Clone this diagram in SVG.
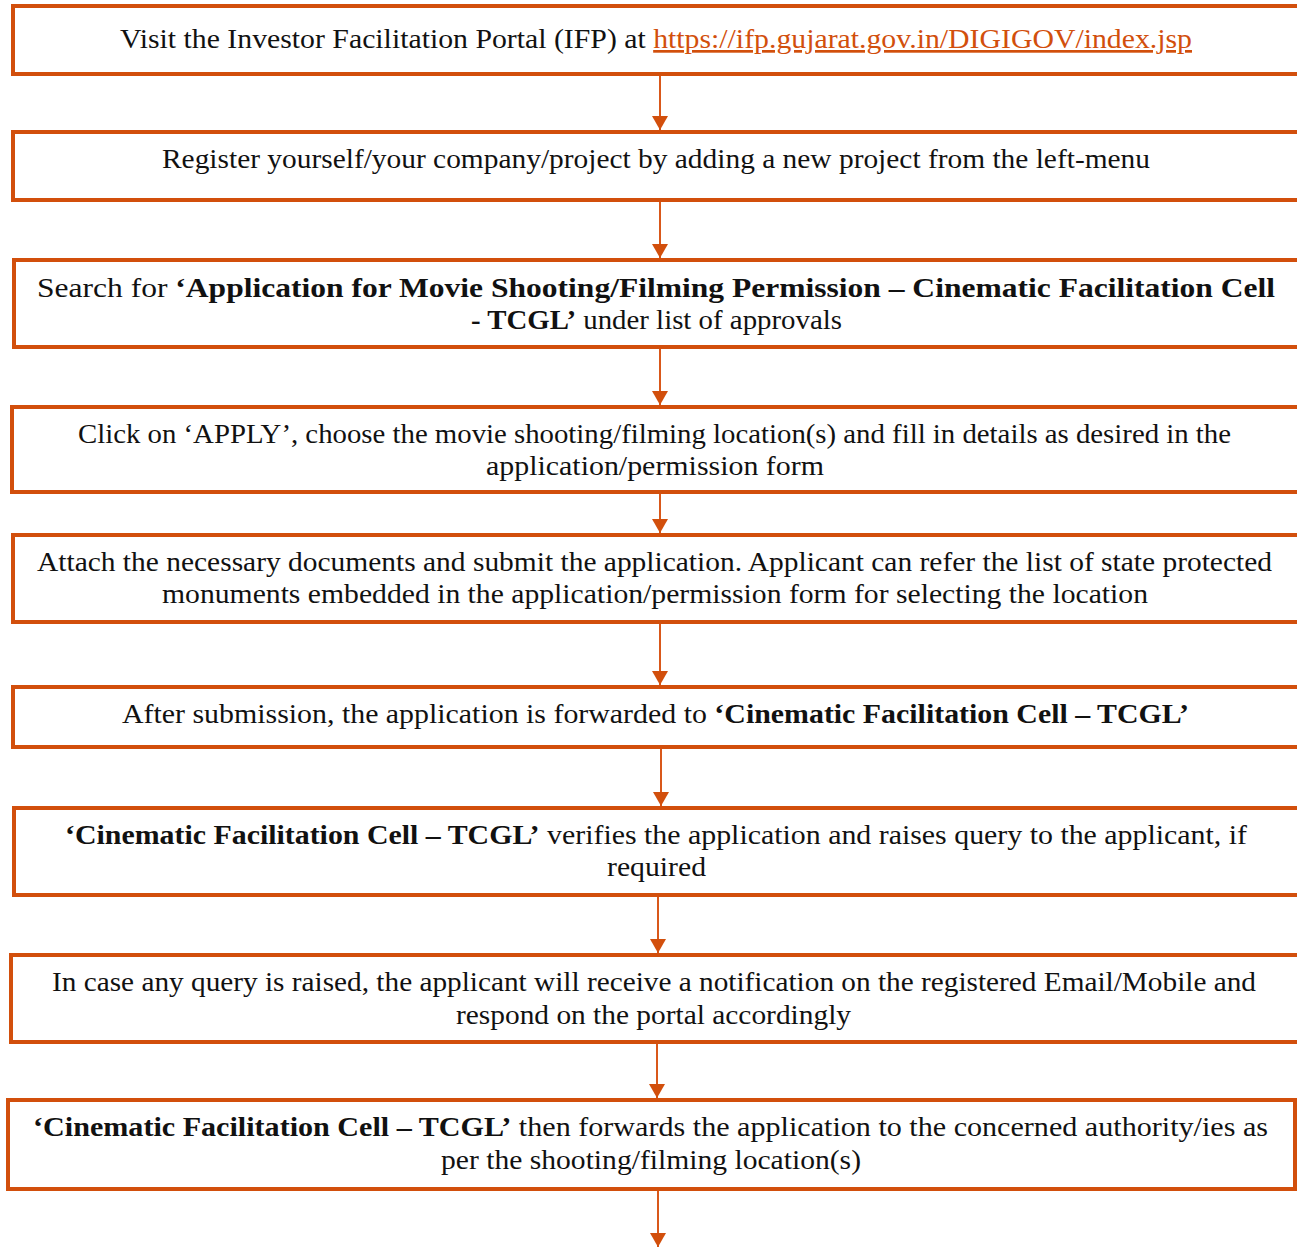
<svg xmlns="http://www.w3.org/2000/svg" width="1297" height="1247" viewBox="0 0 1297 1247">
<style>
.box{fill:#fff;stroke:#D24F0C;stroke-width:4}
.t{font-family:"Liberation Serif","Times New Roman",serif;font-size:27px;fill:#111;text-anchor:start}
.b{font-weight:bold}
.link{fill:#D24F0C;text-decoration:underline}
.conn{stroke:#D9581A;stroke-width:2;fill:none}
</style>
<defs>
<marker id="ah" viewBox="0 0 14 16" refX="14" refY="8" markerWidth="14" markerHeight="16" markerUnits="userSpaceOnUse" orient="auto">
<path d="M0,0 L14,8 L0,16 z" fill="#D24F0C"/>
</marker>
</defs>
<rect width="1297" height="1247" fill="#fff"/>
<g id="connectors">
<line class="conn" x1="660" y1="76" x2="660" y2="130" marker-end="url(#ah)"/>
<line class="conn" x1="660" y1="202" x2="660" y2="258" marker-end="url(#ah)"/>
<line class="conn" x1="660" y1="349" x2="660" y2="405" marker-end="url(#ah)"/>
<line class="conn" x1="660" y1="494" x2="660" y2="533" marker-end="url(#ah)"/>
<line class="conn" x1="660" y1="624" x2="660" y2="685" marker-end="url(#ah)"/>
<line class="conn" x1="661" y1="749" x2="661" y2="806" marker-end="url(#ah)"/>
<line class="conn" x1="658" y1="897" x2="658" y2="953" marker-end="url(#ah)"/>
<line class="conn" x1="657" y1="1044" x2="657" y2="1098" marker-end="url(#ah)"/>
<line class="conn" x1="658" y1="1191" x2="658" y2="1247" marker-end="url(#ah)"/>
</g>
<g id="n1">
<rect class="box" x="13" y="6" width="1300" height="68"/>
<text class="t" x="120" y="48" textLength="1072" lengthAdjust="spacingAndGlyphs">Visit the Investor Facilitation Portal (IFP) at <tspan class="link">https://ifp.gujarat.gov.in/DIGIGOV/index.jsp</tspan></text>
</g>
<g id="n2">
<rect class="box" x="13" y="132" width="1300" height="68"/>
<text class="t" x="162" y="168" textLength="988" lengthAdjust="spacingAndGlyphs">Register yourself/your company/project by adding a new project from the left-menu</text>
</g>
<g id="n3">
<rect class="box" x="14" y="260" width="1300" height="87"/>
<text class="t" x="37" y="297" textLength="1238" lengthAdjust="spacingAndGlyphs">Search for <tspan class="b">‘Application for Movie Shooting/Filming Permission – Cinematic Facilitation Cell</tspan></text>
<text class="t" x="471" y="329" textLength="371" lengthAdjust="spacingAndGlyphs"><tspan class="b">- TCGL’</tspan> under list of approvals</text>
</g>
<g id="n4">
<rect class="box" x="12" y="407" width="1300" height="85"/>
<text class="t" x="78" y="443" textLength="1153" lengthAdjust="spacingAndGlyphs">Click on ‘APPLY’, choose the movie shooting/filming location(s) and fill in details as desired in the</text>
<text class="t" x="486" y="475" textLength="338" lengthAdjust="spacingAndGlyphs">application/permission form</text>
</g>
<g id="n5">
<rect class="box" x="13" y="535" width="1300" height="87"/>
<text class="t" x="37" y="571" textLength="1235" lengthAdjust="spacingAndGlyphs">Attach the necessary documents and submit the application. Applicant can refer the list of state protected</text>
<text class="t" x="162" y="603" textLength="986" lengthAdjust="spacingAndGlyphs">monuments embedded in the application/permission form for selecting the location</text>
</g>
<g id="n6">
<rect class="box" x="13" y="687" width="1300" height="60"/>
<text class="t" x="122" y="723" textLength="1067" lengthAdjust="spacingAndGlyphs">After submission, the application is forwarded to <tspan class="b">‘Cinematic Facilitation Cell – TCGL’</tspan></text>
</g>
<g id="n7">
<rect class="box" x="14" y="808" width="1300" height="87"/>
<text class="t" x="65" y="844" textLength="1182" lengthAdjust="spacingAndGlyphs"><tspan class="b">‘Cinematic Facilitation Cell – TCGL’</tspan> verifies the application and raises query to the applicant, if</text>
<text class="t" x="607" y="876" textLength="99" lengthAdjust="spacingAndGlyphs">required</text>
</g>
<g id="n8">
<rect class="box" x="11" y="955" width="1300" height="87"/>
<text class="t" x="52" y="991" textLength="1204" lengthAdjust="spacingAndGlyphs">In case any query is raised, the applicant will receive a notification on the registered Email/Mobile and</text>
<text class="t" x="456" y="1024" textLength="395" lengthAdjust="spacingAndGlyphs">respond on the portal accordingly</text>
</g>
<g id="n9">
<rect class="box" x="8" y="1100" width="1287" height="89"/>
<text class="t" x="33" y="1136" textLength="1235" lengthAdjust="spacingAndGlyphs"><tspan class="b">‘Cinematic Facilitation Cell – TCGL’</tspan> then forwards the application to the concerned authority/ies as</text>
<text class="t" x="441" y="1169" textLength="420" lengthAdjust="spacingAndGlyphs">per the shooting/filming location(s)</text>
</g>
</svg>
